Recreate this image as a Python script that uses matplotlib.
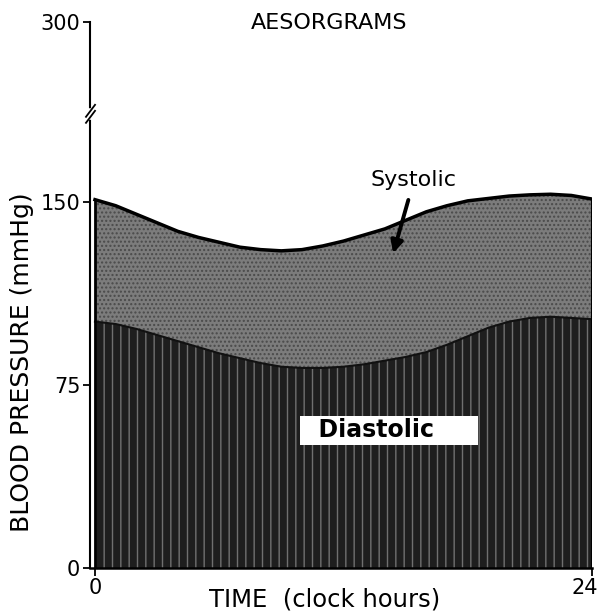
import numpy as np
import matplotlib
matplotlib.use('Agg')
import matplotlib.pyplot as plt
import matplotlib.transforms as mtransforms

# hourly readings (mmHg)
hours = list(range(25))
systolic = [152, 148.5, 145, 141.5, 138, 135.5, 133.5, 131.5, 130.5, 130, 130.5, 132, 134,
            136.5, 139, 142.5, 146, 148.5, 151, 153, 155, 156, 156.5, 155.5, 152.5]
diastolic = [101, 100, 98, 95.5, 93, 90.5, 88, 86, 84, 82.5, 82, 82, 82.5,
             83.5, 85, 86.5, 88.5, 91.5, 95, 98.5, 101, 102.5, 103, 102.5, 102]
y_ticks = [0, 75, 150, 300]
x_ticks = [0, 24]

# broken y axis: everything above 150 is squeezed
K = 0.492
def fwd(y):
    y = np.asarray(y, float)
    return np.where(y <= 150, y, 150 + (y - 150) * K)

def inv(y):
    y = np.asarray(y, float)
    return np.where(y <= 150, y, 150 + (y - 150) / K)

plt.rcParams['font.family'] = 'DejaVu Sans'
fig = plt.figure(figsize=(5.97, 6.16), dpi=100)
ax = fig.add_axes([90 / 597, 1 - 568 / 616, 502 / 597, 546 / 616])
ax.set_yscale('function', functions=(fwd, inv))

ax.fill_between(hours, 0, diastolic, facecolor='#1e1e1e', edgecolor='#707070',
                hatch='||', linewidth=0, zorder=2)
ax.fill_between(hours, diastolic, systolic, facecolor='#7c7c7c', edgecolor='#4a4a4a',
                hatch='....', linewidth=0, zorder=2)
ax.plot(hours, systolic, color='black', lw=2.5, zorder=3)
ax.plot(hours, diastolic, color='#111111', lw=1.5, zorder=3)
ax.plot([0, 0], [0, systolic[0]], color='black', lw=2, zorder=3)
ax.plot([24, 24], [0, systolic[-1]], color='black', lw=1.5, zorder=3)

ax.set_xlim(-0.24, 24)
ax.set_ylim(0, 300)
ax.set_yticks(y_ticks)
ax.set_xticks(x_ticks)
ax.tick_params(axis='y', direction='out', length=5, width=1.3, labelsize=15, pad=2)
ax.tick_params(axis='x', direction='out', length=6, width=1.3, labelsize=15, pad=1)
for s in ['top', 'right']:
    ax.spines[s].set_visible(False)
ax.spines['left'].set_linewidth(1.5)
ax.spines['bottom'].set_linewidth(1.8)

# pull the "24" label inside the figure
lab = ax.get_xticklabels()[-1]
lab.set_transform(lab.get_transform() + mtransforms.ScaledTranslation(-7 / 100, 0, fig.dpi_scale_trans))

# axis break marks
tr = ax.get_yaxis_transform()
ax.plot([0, 0], [220.5, 226], color='white', lw=4, transform=tr, clip_on=False, zorder=5)
ax.plot([-0.008, 0.01], [216, 226], color='black', lw=1.3, transform=tr, clip_on=False, zorder=6)
ax.plot([-0.008, 0.01], [221, 231], color='black', lw=1.3, transform=tr, clip_on=False, zorder=6)

ax.annotate('Systolic', xy=(14.4, 129), xytext=(15.4, 168), ha='center', va='center',
            fontsize=16, zorder=6,
            arrowprops=dict(arrowstyle='-|>', color='black', lw=2.8, mutation_scale=18,
                            shrinkA=5, shrinkB=0))
ax.text(14.2, 56.5, '  Diastolic     ', ha='center', va='center', fontsize=17,
        fontweight='bold', zorder=6,
        bbox=dict(boxstyle='square,pad=0.1', facecolor='white', edgecolor='none'))

fig.text(0.551, 0.962, 'AESORGRAMS', ha='center', va='center', fontsize=16)
fig.text(0.037, 0.412, 'BLOOD PRESSURE (mmHg)', rotation=90, ha='center', va='center',
         fontsize=18)
fig.text(0.544, 0.026, 'TIME  (clock hours)', ha='center', va='center', fontsize=17.5)

fig.savefig('out.png', dpi=100)
